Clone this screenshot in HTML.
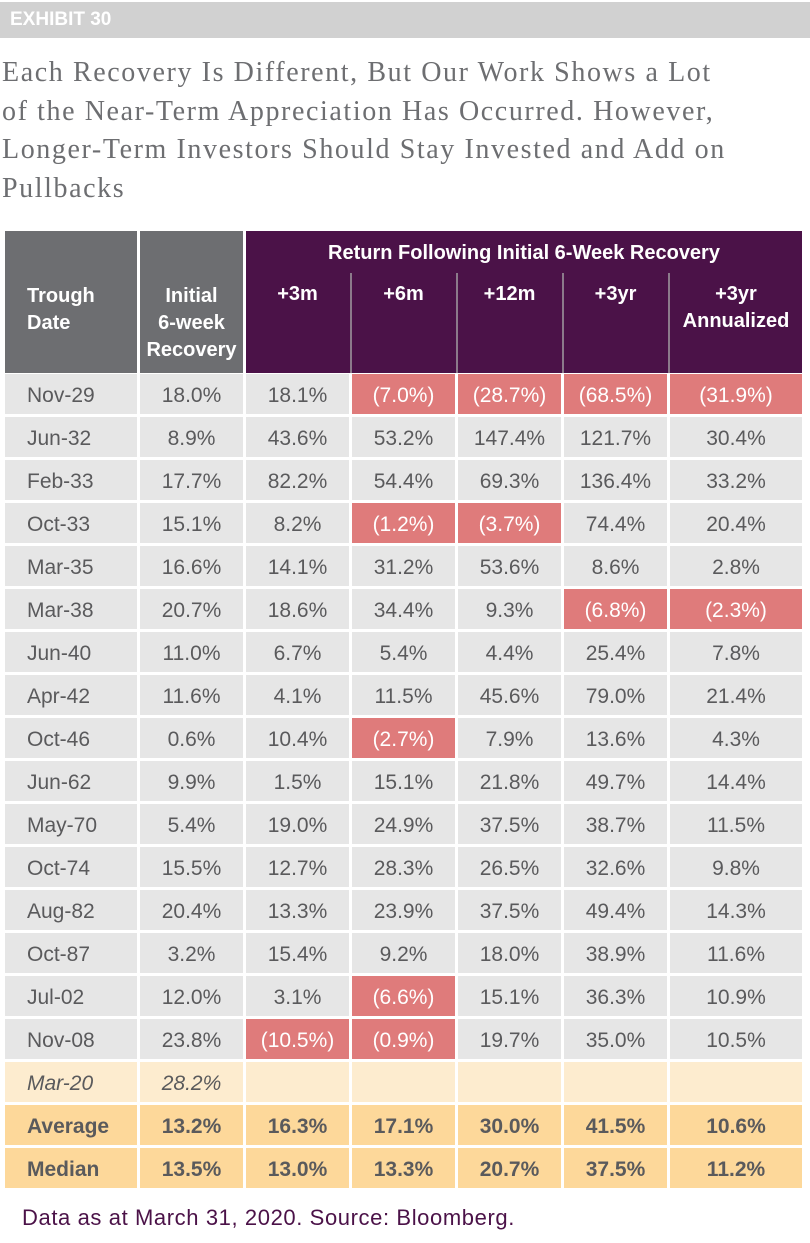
<!DOCTYPE html>
<html><head><meta charset="utf-8">
<style>
body{margin:0;width:810px;height:1243px;background:#fff;position:relative;overflow:hidden;font-family:"Liberation Sans",sans-serif}
.c{position:absolute;box-sizing:border-box;display:flex;align-items:center;justify-content:center;font-size:21px;color:#5a5a5c;padding-top:3px}
#bar{position:absolute;left:0;top:2px;width:810px;height:36px;background:#d1d1d1;color:#fff;font-weight:bold;font-size:19px;line-height:36px;padding-left:10px;box-sizing:border-box}
#title{position:absolute;left:2px;top:54px;font-family:"Liberation Serif",serif;font-size:28px;line-height:38.5px;color:#6d6e71;letter-spacing:1.6px;white-space:nowrap}
#foot{position:absolute;left:22px;top:1205px;font-size:22px;letter-spacing:0.6px;color:#4b1248}
.h{color:#fff;font-weight:bold;font-size:20px;line-height:27px;text-align:center}
</style></head><body>
<div id="bar">EXHIBIT 30</div>
<div id="title">Each Recovery Is Different, But Our Work Shows a Lot<br>of the Near-Term Appreciation Has Occurred. However,<br>Longer-Term Investors Should Stay Invested and Add on<br>Pullbacks</div>
<div id="tbl"></div>
<div id="foot">Data as at March 31, 2020. Source: Bloomberg.</div>
<script>
const troughDates=["Nov-29","Jun-32","Feb-33","Oct-33","Mar-35","Mar-38","Jun-40","Apr-42","Oct-46","Jun-62","May-70","Oct-74","Aug-82","Oct-87","Jul-02","Nov-08"];
const initialRecovery=[18.0,8.9,17.7,15.1,16.6,20.7,11.0,11.6,0.6,9.9,5.4,15.5,20.4,3.2,12.0,23.8];
const ret3m=[18.1,43.6,82.2,8.2,14.1,18.6,6.7,4.1,10.4,1.5,19.0,12.7,13.3,15.4,3.1,-10.5];
const ret6m=[-7.0,53.2,54.4,-1.2,31.2,34.4,5.4,11.5,-2.7,15.1,24.9,28.3,23.9,9.2,-6.6,-0.9];
const ret12m=[-28.7,147.4,69.3,-3.7,53.6,9.3,4.4,45.6,7.9,21.8,37.5,26.5,37.5,18.0,15.1,19.7];
const ret3yr=[-68.5,121.7,136.4,74.4,8.6,-6.8,25.4,79.0,13.6,49.7,38.7,32.6,49.4,38.9,36.3,35.0];
const ret3yrAnn=[-31.9,30.4,33.2,20.4,2.8,-2.3,7.8,21.4,4.3,14.4,11.5,9.8,14.3,11.6,10.9,10.5];
const currentRow=["Mar-20",28.2];
const averageRow=[13.2,16.3,17.1,30.0,41.5,10.6];
const medianRow=[13.5,13.0,13.3,20.7,37.5,11.2];
const subHeaders=["+3m","+6m","+12m","+3yr","+3yr<br>Annualized"];

const colX=[5,140,246,352,458,564,670], colW=[132,103,103,103,103,103,132];
const rowTop0=374,pitch=43,rowH=40;
const T=document.getElementById('tbl');
function fmt(v){return v<0?"("+Math.abs(v).toFixed(1)+"%)":v.toFixed(1)+"%";}
function cell(ci,y,h,bg,html,name,extra){
  const d=document.createElement('div');d.className='c';
  d.style.left=colX[ci]+'px';d.style.top=y+'px';d.style.width=colW[ci]+'px';d.style.height=h+'px';d.style.background=bg;
  if(ci===0){d.style.justifyContent='flex-start';d.style.paddingLeft='22px';}
  d.innerHTML=html;if(extra)Object.assign(d.style,extra);
  
  
  T.appendChild(d);return d;
}
const hg={fontWeight:'bold',color:'#fff',fontSize:'20px',lineHeight:'27px',alignItems:'flex-start',paddingTop:'52px',textAlign:'center'};
cell(0,231,142,'#6d6e71','Trough<br>Date','header-trough-date',Object.assign({},hg,{textAlign:'left'}));
cell(1,231,142,'#6d6e71','Initial<br>6-week<br>Recovery','header-initial-recovery',hg);
const g=document.createElement('div');g.className='c h';
g.style.left='246px';g.style.top='231px';g.style.width='556px';g.style.height='142px';g.style.background='#4b1248';
g.style.alignItems='flex-start';g.style.paddingTop='9px';g.textContent='Return Following Initial 6-Week Recovery';


T.appendChild(g);
for(let i=0;i<5;i++){
  cell(i+2,273,100,'transparent',subHeaders[i],'header-sub',Object.assign({},hg,{paddingTop:'8px'}));
  if(i>0){const l=document.createElement('div');l.style.cssText='position:absolute;left:'+(colX[i+2]-2)+'px;top:273px;width:2px;height:100px;background:#8c7a8b';
  
  
  T.appendChild(l);}
}
const cols=[initialRecovery,ret3m,ret6m,ret12m,ret3yr,ret3yrAnn];
for(let r=0;r<troughDates.length;r++){
  const y=rowTop0+r*pitch;
  cell(0,y,rowH,'#e6e6e6',troughDates[r],'row-date');
  for(let c=0;c<6;c++){const v=cols[c][r];
    cell(c+1,y,rowH,(c>0&&v<0)?'#df7b7b':'#e6e6e6',fmt(v),'value-cell',(c>0&&v<0)?{color:'#fff'}:null);}
}
let yy=rowTop0+16*pitch;
cell(0,yy,rowH,'#fdeccf',currentRow[0],'current-date',{fontStyle:'italic'});
cell(1,yy,rowH,'#fdeccf',fmt(currentRow[1]),'current-recovery',{fontStyle:'italic'});
for(let c=2;c<7;c++)cell(c,yy,rowH,'#fdeccf','','current-empty');
yy+=pitch;
cell(0,yy,rowH,'#fdd89a','Average','average-label',{fontWeight:'bold'});
averageRow.forEach((v,i)=>cell(i+1,yy,rowH,'#fdd89a',fmt(v),'average-value',{fontWeight:'bold'}));
yy+=pitch;
cell(0,yy,rowH,'#fdd89a','Median','median-label',{fontWeight:'bold'});
medianRow.forEach((v,i)=>cell(i+1,yy,rowH,'#fdd89a',fmt(v),'median-value',{fontWeight:'bold'}));
</script>
</body></html>
